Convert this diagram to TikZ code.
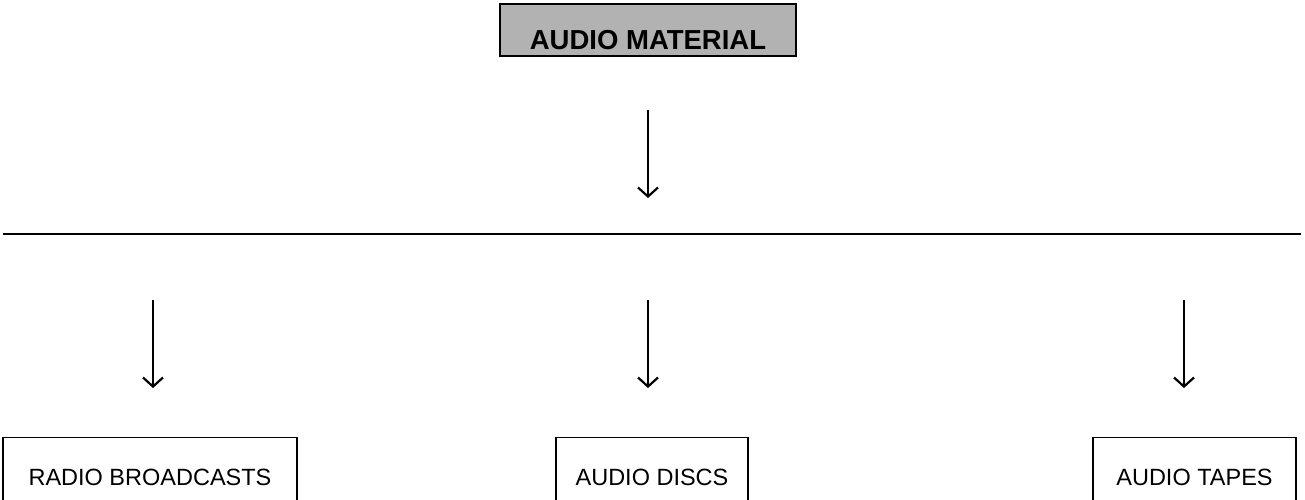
\documentclass[tikz,border=0pt]{standalone}
\usepackage{fontspec}
\setmainfont{Liberation Sans}
\usetikzlibrary{arrows.meta}
\begin{document}
\begin{tikzpicture}[x=1pt,y=-1pt,
  catbox/.style={draw=black, line width=1.3pt, fill=white, anchor=north, minimum height=80pt, inner sep=0pt, font=\fontsize{23.5}{26}\selectfont, text depth=0pt},
  titlebox/.style={draw=black, line width=2pt, fill=gray!60, minimum width=296pt, inner sep=0pt, text height=46pt, text depth=6pt, font=\bfseries\fontsize{27.5}{30}\selectfont},
  downarrow/.style={line width=2.2pt, -{Straight Barb[length=9pt,width=20pt,line width=2.2pt]}}
]
\clip (0,0) rectangle (1305,500);
\fill[white] (0,0) rectangle (1305,500);

\node[titlebox] (title) at (648,30) {AUDIO MATERIAL};

\coordinate (a0s) at (648,110);
\coordinate (a0e) at (648,198);
\draw[downarrow] (a0s) -- (a0e);

\coordinate (hl) at (3,234);
\coordinate (hr) at (1301,234);
\draw[line width=1.6pt] (hl) -- (hr);

\coordinate (a1s) at (153,300);
\coordinate (a1e) at (153,388);
\coordinate (a2s) at (648,300);
\coordinate (a2e) at (648,388);
\coordinate (a3s) at (1184,300);
\coordinate (a3e) at (1184,388);
\draw[downarrow] (a1s) -- (a1e);
\draw[downarrow] (a2s) -- (a2e);
\draw[downarrow] (a3s) -- (a3e);

\node[catbox, minimum width=294pt] (radio) at (150,437) {RADIO BROADCASTS};
\node[catbox, minimum width=192pt] (discs) at (652,437) {AUDIO DISCS};
\node[catbox, minimum width=203pt] (tapes) at (1194.5,437) {AUDIO TAPES};
\end{tikzpicture}
\end{document}
